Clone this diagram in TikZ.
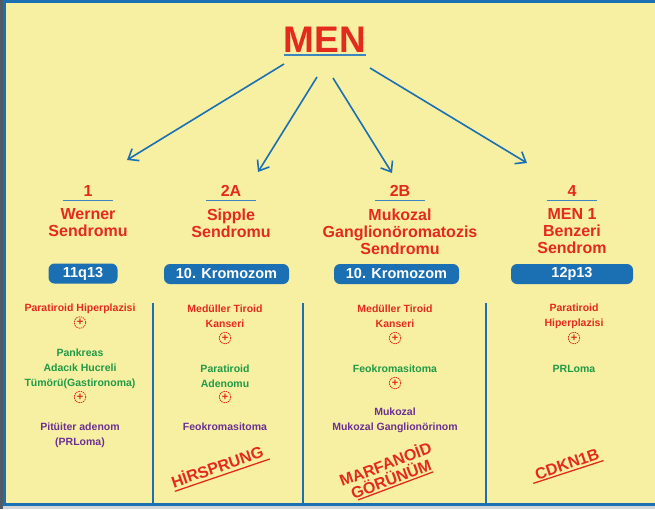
\documentclass[tikz,border=0pt]{standalone}
\usepackage{fontspec}
\setmainfont{Liberation Sans}
\usepackage{tikz}
\usetikzlibrary{arrows.meta,positioning,calc}
\definecolor{menRed}{HTML}{E42A1D}
\definecolor{menGreen}{HTML}{1F9A46}
\definecolor{menPurple}{HTML}{6B3092}
\definecolor{menBlue}{HTML}{1B6FB3}
\definecolor{menYellow}{HTML}{F7F0A3}
\definecolor{menGrey}{HTML}{D3D6D9}
\definecolor{menDark}{HTML}{4F5B66}
\tikzset{
  htitle/.style={text=menRed,font=\fontsize{37}{40}\selectfont\bfseries,inner sep=0pt},
  hnum/.style={text=menRed,font=\fontsize{16}{17}\selectfont\bfseries,inner sep=2pt},
  hname/.style={text=menRed,font=\fontsize{16}{17}\selectfont\bfseries,align=center,inner sep=0pt},
  chrom/.style={fill=menBlue,text=white,rounded corners=6pt,minimum height=20pt,
    font=\fontsize{14.5}{16}\selectfont\bfseries,inner sep=0pt},
  tred/.style={text=menRed,font=\fontsize{10.5}{15}\selectfont\bfseries,align=center,inner sep=0pt},
  tgreen/.style={tred,text=menGreen},
  tpurple/.style={tred,text=menPurple},
  pcirc/.style={circle,draw=menRed,dash pattern=on 1.4pt off 0.9pt,line width=0.8pt,
    minimum size=11.5pt,inner sep=0pt,text=menRed,font=\fontsize{11}{11}\selectfont\bfseries},
  stamp/.style={text=menRed,font=\fontsize{16}{16}\selectfont\bfseries,align=center,inner sep=1.5pt,rotate=19},
  sline/.style={draw=menRed,line width=1.3pt},
  uline/.style={draw=menBlue!85,line width=1.2pt},
  marrow/.style={-{Straight Barb[length=9pt,width=14pt]},draw=menBlue,line width=1.6pt},
  divider/.style={draw=menBlue,line width=2.5pt},
}
\begin{document}
\begin{tikzpicture}[x=1pt,y=-1pt]
\useasboundingbox (0,0) rectangle (655,509);
% frame
\fill[menGrey] (0,0) rectangle (655,509);
\fill[menDark] (0,0) rectangle (3,509);
\fill[menYellow] (3,0) rectangle (655,506);
\draw[menBlue,line width=3pt] (4.5,506) -- (4.5,1.5) -- (655,1.5);
\draw[menBlue,line width=3pt] (3,504.5) -- (655,504.5);

% title
\node[htitle] (men) at (325,40) {MEN};
\draw[uline,line width=2pt] ([yshift=-2.5pt]men.south west) -- ([yshift=-2.5pt]men.south east);

% arrows
\coordinate (s1) at (284,64);
\coordinate (s2) at (317,77);
\coordinate (s3) at (333,78);
\coordinate (s4) at (370,68);
\coordinate (t1) at (127,160);
\coordinate (t2) at (258,172);
\coordinate (t3) at (392,173);
\coordinate (t4) at (527,163);
\foreach \i in {1,...,4}
  \draw[marrow] (s\i) -- (t\i);

% headings
\node[hnum] (n1) at (88,191) {1};
\node[hnum] (n2) at (231,191) {2A};
\node[hnum] (n3) at (400,191) {2B};
\node[hnum] (n4) at (572,191) {4};
\foreach \i in {1,...,4}
  \draw[uline] ($(n\i.south)+(-25,1.5)$) -- ($(n\i.south)+(25,1.5)$);
\node[hname,below=10pt of n1] (h1) {Werner\\Sendromu};
\node[hname,below=10pt of n2] (h2) {Sipple\\Sendromu};
\node[hname,below=10pt of n3] (h3) {Mukozal\\Ganglionöromatozis\\Sendromu};
\node[hname,below=10pt of n4] (h4) {MEN 1\\Benzeri\\Sendrom};

% chromosomes
\node[chrom,minimum width=69pt] (c1) at (83,273.5) {11q13};
\node[chrom,minimum width=125pt] (c2) at (226.5,274) {10. Kromozom};
\node[chrom,minimum width=125pt] (c3) at (396.5,274) {10. Kromozom};
\node[chrom,minimum width=122pt] (c4) at (572,274) {12p13};

% dividers
\draw[divider] (153,303) -- (153,504);
\draw[divider] (303,303) -- (303,504);
\draw[divider] (486,303) -- (486,504);

% column 1
\node[tred] (a1) at (80,309) {Paratiroid Hiperplazisi};
\node[pcirc] (a1p) at (80,322.5) {+};
\node[tgreen] (a2) at (80,368.5) {Pankreas\\Adacık Hucreli\\Tümörü(Gastironoma)};
\node[pcirc] (a2p) at (80,397) {+};
\node[tpurple] (a3) at (80,435) {Pitüiter adenom\\(PRLoma)};

% column 2
\node[tred] (b1) at (225,316.5) {Medüller Tiroid\\Kanseri};
\node[pcirc] (b1p) at (225,338) {+};
\node[tgreen] (b2) at (225,376) {Paratiroid\\Adenomu};
\node[pcirc] (b2p) at (225,397) {+};
\node[tpurple] (b3) at (225,427) {Feokromasitoma};
\node[stamp] (st2) at (217,466) {HİRSPRUNG};
\draw[sline] ([shift={(2pt,-1pt)}]st2.south west) -- ([shift={(3pt,-1pt)}]st2.south east);

% column 3
\node[tred] (d1) at (395,316.5) {Medüller Tiroid\\Kanseri};
\node[pcirc] (d1p) at (395,338) {+};
\node[tgreen] (d2) at (395,369) {Feokromasitoma};
\node[pcirc] (d2p) at (395,383) {+};
\node[tpurple] (d3) at (395,420) {Mukozal\\Mukozal Ganglionörinom};
\node[stamp,rotate=1.5] (st3) at (388,471) {MARFANOİD\\GÖRÜNÜM};
\draw[sline] ($(st3.south west)!0.12!(st3.south east)$) -- ($(st3.south west)!0.92!(st3.south east)$);

% column 4
\node[tred] (e1) at (574,316.5) {Paratiroid\\Hiperplazisi};
\node[pcirc] (e1p) at (574,338) {+};
\node[tgreen] (e2) at (574,369) {PRLoma};
\node[stamp] (st4) at (567,464) {CDKN1B};
\draw[sline] ([shift={(-3pt,-1pt)}]st4.south west) -- ([shift={(1pt,-1pt)}]st4.south east);
\end{tikzpicture}
\end{document}
